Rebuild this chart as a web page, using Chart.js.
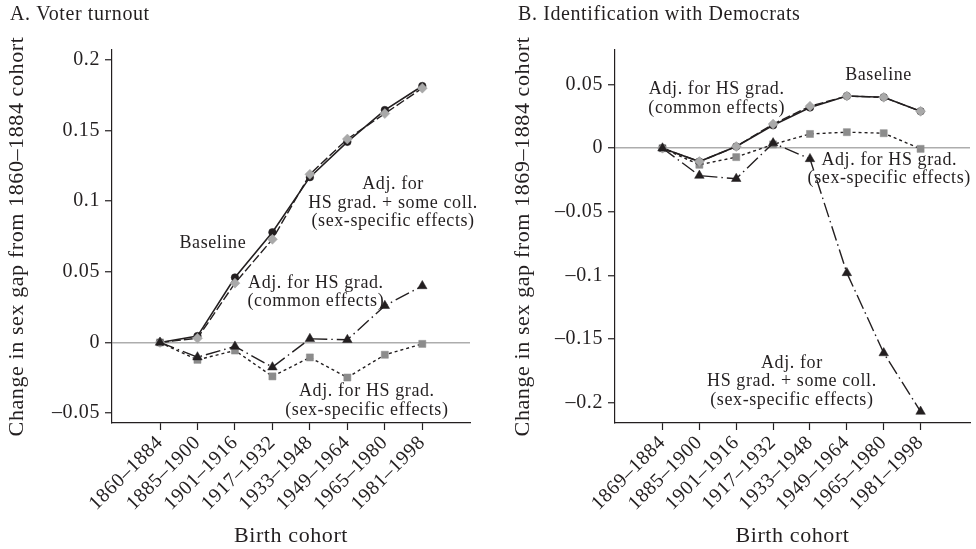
<!DOCTYPE html>
<html>
<head>
<meta charset="utf-8">
<script src="https://cdn.jsdelivr.net/npm/chart.js@4"></script>
<style>
  html, body { margin: 0; padding: 0; background: #fff; }
  #wrap { position: relative; width: 976px; height: 549px; }
  canvas { position: absolute; top: 0; }
  #chartA { left: 0; }
  #chartB { left: 488px; }
</style>
</head>
<body>
<div id="wrap">
  <canvas id="chartA" width="488" height="549"></canvas>
  <canvas id="chartB" width="488" height="549"></canvas>
</div>
<script>
// Birth cohorts (x axis categories)
const cohortsA = ["1860–1884", "1885–1900", "1901–1916", "1917–1932", "1933–1948", "1949–1964", "1965–1980", "1981–1998"];
const cohortsB = ["1869–1884", "1885–1900", "1901–1916", "1917–1932", "1933–1948", "1949–1964", "1965–1980", "1981–1998"];

// Panel A: voter turnout
const baselineA = [0, 0.0045, 0.046, 0.078, 0.117, 0.142, 0.1645, 0.1815];
const commonA = [0, 0.003, 0.042, 0.073, 0.119, 0.144, 0.162, 0.180];
const sexSpecA = [0, -0.0123, -0.0057, -0.024, -0.0106, -0.0248, -0.0087, -0.001];
const someCollA = [0, -0.0104, -0.0028, -0.0175, 0.0026, 0.0019, 0.026, 0.040];

// Panel B: identification with Democrats
const baselineB = [0, -0.0105, 0.0013, 0.018, 0.032, 0.041, 0.040, 0.029];
const commonB = [0, -0.0105, 0.0013, 0.019, 0.033, 0.041, 0.040, 0.029];
const sexSpecB = [0, -0.013, -0.007, 0.003, 0.0112, 0.0126, 0.0118, -0.0005];
const someCollB = [0, -0.0215, -0.024, 0.004, -0.0084, -0.098, -0.161, -0.207];

// Y tick values and labels
const yTicksA = [-0.05, 0, 0.05, 0.1, 0.15, 0.2];
const yLabelsA = ["–0.05", "0", "0.05", "0.1", "0.15", "0.2"];
const yTicksB = [-0.2, -0.15, -0.1, -0.05, 0, 0.05];
const yLabelsB = ["–0.2", "–0.15", "–0.1", "–0.05", "0", "0.05"];

// Text labels placed next to the lines (x = cohort index, y = value)
const notesA = [
  { x: 1.41, y: 0.0703, lines: ["Baseline"] },
  { x: 4.16, y: 0.0355, lines: ["Adj. for HS grad.", "(common effects)"] },
  { x: 6.22, y: 0.0986, lines: ["Adj. for", "HS grad. + some coll.", "(sex-specific effects)"] },
  { x: 5.52, y: -0.0412, lines: ["Adj. for HS grad.", "(sex-specific effects)"] },
];
const notesB = [
  { x: 5.86, y: 0.0576, lines: ["Baseline"] },
  { x: 1.47, y: 0.0389, lines: ["Adj. for HS grad.", "(common effects)"] },
  { x: 6.15, y: -0.0167, lines: ["Adj. for HS grad.", "(sex-specific effects)"] },
  { x: 3.51, y: -0.1833, lines: ["Adj. for", "HS grad. + some coll.", "(sex-specific effects)"] },
];

const ink = "#231f20";
const serif = '"Liberation Serif", "Times New Roman", serif';
Chart.defaults.font.family = serif;
Chart.defaults.color = ink;

// letter spacing to get closer to the wide book face of the original
const spacingPlugin = {
  id: "spacing",
  beforeDraw(chart) {
    chart.ctx.letterSpacing = "0.6px";
  },
};

// panel title + line labels
const notesPlugin = {
  id: "notes",
  afterDatasetsDraw(chart, args, opts) {
    const ctx = chart.ctx;
    const xs = chart.scales.x;
    const ys = chart.scales.y;
    ctx.save();
    ctx.fillStyle = ink;
    ctx.textBaseline = "middle";
    ctx.textAlign = "center";
    ctx.font = "18px " + serif;
    opts.notes.forEach((n) => {
      const px = xs.getPixelForValue(n.x);
      const py = ys.getPixelForValue(n.y);
      const h = 18.5;
      n.lines.forEach((line, i) => {
        ctx.fillText(line, px, py + (i - (n.lines.length - 1) / 2) * h);
      });
    });
    ctx.textAlign = "left";
    ctx.font = "20px " + serif;
    ctx.fillText(opts.title, opts.titleX, 14.5);
    ctx.restore();
  },
};

function pts(arr) {
  return arr.map((v, i) => ({ x: i, y: v }));
}

function makeChart(id, cfg) {
  const datasets = [
    {
      label: "Adj. for HS grad. + some coll. (sex-specific effects)",
      data: pts(cfg.someColl),
      borderColor: ink,
      borderWidth: 1.4,
      borderDash: [15, 4, 1.5, 4],
      pointStyle: "triangle",
      pointRadius: 5.5,
      pointBackgroundColor: ink,
      pointBorderColor: ink,
      pointBorderWidth: 0.5,
    },
    {
      label: "Adj. for HS grad. (common effects)",
      data: pts(cfg.common),
      borderColor: ink,
      borderWidth: 1.4,
      borderDash: [9, 3],
      pointStyle: "rectRot",
      pointRadius: 5,
      pointBackgroundColor: "#a9a9a9",
      pointBorderColor: "#a9a9a9",
      pointBorderWidth: 0.5,
    },
    {
      label: "Baseline",
      data: pts(cfg.baseline),
      borderColor: ink,
      borderWidth: 1.6,
      pointStyle: "circle",
      pointRadius: 3.8,
      pointBackgroundColor: ink,
      pointBorderColor: ink,
      pointBorderWidth: 0.5,
    },
    {
      label: "Adj. for HS grad. (sex-specific effects)",
      data: pts(cfg.sexSpec),
      borderColor: ink,
      borderWidth: 1.4,
      borderDash: [3, 3],
      pointStyle: "rect",
      pointRadius: 5,
      pointBackgroundColor: "#8c8c8c",
      pointBorderColor: "#8c8c8c",
      pointBorderWidth: 0.5,
    },
  ];

  return new Chart(document.getElementById(id), {
    type: "line",
    data: { datasets: datasets },
    plugins: [spacingPlugin, notesPlugin],
    options: {
      responsive: false,
      animation: false,
      events: [],
      layout: { padding: { top: 50, left: 0, bottom: 0, right: cfg.padRight } },
      elements: { line: { tension: 0 } },
      scales: {
        x: {
          type: "linear",
          min: cfg.xMin,
          max: cfg.xMax,
          afterBuildTicks: (s) => {
            s.ticks = cfg.cohorts.map((c, i) => ({ value: i }));
          },
          afterFit: (s) => {
            s.height = 126;
          },
          grid: { drawOnChartArea: false, drawTicks: true, tickLength: 7, tickColor: ink, tickWidth: 1.2 },
          border: { display: true, color: ink, width: 1.2 },
          ticks: {
            autoSkip: false,
            minRotation: 45,
            maxRotation: 45,
            padding: 1,
            color: ink,
            font: { size: 20 },
            callback: (v) => cfg.cohorts[v],
          },
          title: { display: true, text: "Birth cohort", color: ink, font: { size: 22 }, padding: { top: 0, bottom: 0 } },
        },
        y: {
          type: "linear",
          min: cfg.yMin,
          max: cfg.yMax,
          afterBuildTicks: (s) => {
            s.ticks = cfg.yTicks.map((v) => ({ value: v }));
          },
          afterFit: (s) => {
            s.width = cfg.yWidth;
          },
          grid: {
            color: (c) => (c.tick && c.tick.value === 0 ? "#adadad" : "rgba(0,0,0,0)"),
            lineWidth: 1.5,
            drawTicks: true,
            tickLength: 7,
            tickColor: ink,
            tickWidth: 1.2,
          },
          border: { display: true, color: ink, width: 1.2 },
          ticks: {
            padding: 5,
            color: ink,
            font: { size: 20 },
            callback: (v) => cfg.yLabels[cfg.yTicks.indexOf(v)],
          },
          title: { display: true, text: cfg.yTitle, color: ink, font: { size: 22 }, padding: { top: cfg.yTitlePad, bottom: 0 } },
        },
      },
      plugins: {
        legend: { display: false },
        tooltip: { enabled: false },
        notes: { notes: cfg.notes, title: cfg.title, titleX: cfg.titleX },
      },
    },
  });
}

makeChart("chartA", {
  cohorts: cohortsA,
  baseline: baselineA,
  common: commonA,
  sexSpec: sexSpecA,
  someColl: someCollA,
  yTicks: yTicksA,
  yLabels: yLabelsA,
  notes: notesA,
  title: "A. Voter turnout",
  titleX: 10,
  yTitle: "Change in sex gap from 1860–1884 cohort",
  yTitlePad: 4,
  yWidth: 112,
  padRight: 18,
  xMin: -1.281,
  xMax: 8.273,
  yMin: -0.057,
  yMax: 0.207,
});

makeChart("chartB", {
  cohorts: cohortsB,
  baseline: baselineB,
  common: commonB,
  sexSpec: sexSpecB,
  someColl: someCollB,
  yTicks: yTicksB,
  yLabels: yLabelsB,
  notes: notesB,
  title: "B. Identification with Democrats",
  titleX: 30,
  yTitle: "Change in sex gap from 1869–1884 cohort",
  yTitlePad: 22,
  yWidth: 127,
  padRight: 0,
  xMin: -1.288,
  xMax: 8.34,
  yMin: -0.216,
  yMax: 0.0772,
});
</script>
</body>
</html>
